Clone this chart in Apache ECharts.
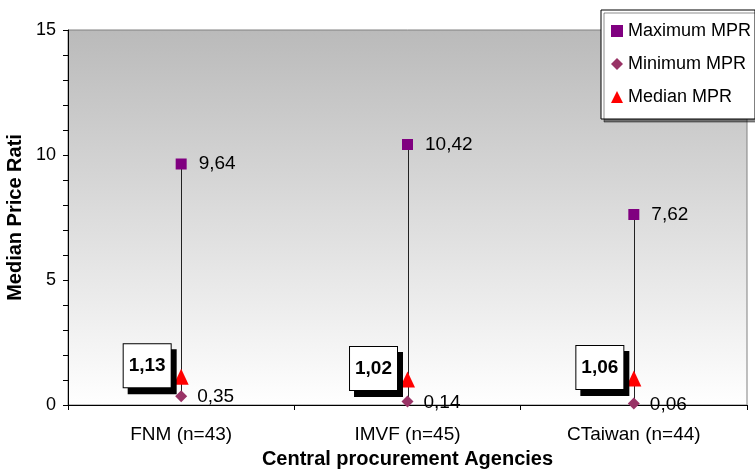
<!DOCTYPE html>
<html>
<head>
<meta charset="utf-8">
<script src="https://cdn.jsdelivr.net/npm/echarts@6/dist/echarts.min.js"></script>
<style>
  html, body { margin: 0; padding: 0; background: #ffffff; }
  #chart { width: 755px; height: 469px; }
</style>
</head>
<body>
<div id="chart"></div>
<script>
// Median price ratio ranges per central procurement agency
const categories = ['FNM (n=43)', 'IMVF (n=45)', 'CTaiwan (n=44)'];
const maxMPR = [9.64, 10.42, 7.62];
const minMPR = [0.35, 0.14, 0.06];
const medianMPR = [1.13, 1.02, 1.06];
const yTicks = [0, 5, 10, 15];

const FONT = '"Liberation Sans", Arial, sans-serif';
const fmt = v => v.toFixed(2).replace('.', ',');

const rangeData = categories.map((c, i) => [i, minMPR[i], maxMPR[i]]);

const chart = echarts.init(document.getElementById('chart'), null, { renderer: 'canvas' });

chart.setOption({
  animation: false,
  textStyle: { fontFamily: FONT },
  grid: {
    left: 68, right: 8, top: 30, bottom: 64,
    outerBoundsMode: 'none',
    containLabel: false,
    show: true,
    borderColor: '#808080',
    borderWidth: 1,
    backgroundColor: new echarts.graphic.LinearGradient(0, 0, 0, 1, [
      { offset: 0, color: '#bababa' },
      { offset: 1, color: '#ffffff' }
    ])
  },
  legend: {
    orient: 'vertical',
    left: 601, top: 10,
    backgroundColor: '#ffffff',
    borderColor: '#000000',
    borderWidth: 1,
    shadowColor: 'rgba(0,0,0,0.45)',
    shadowOffsetX: 3, shadowOffsetY: 3, shadowBlur: 0,
    padding: [11, 4, 12, 10],
    itemWidth: 12, itemHeight: 12,
    itemGap: 13,
    textStyle: { fontFamily: FONT, fontSize: 18, color: '#000', lineHeight: 20, width: 122 },
    data: [
      { name: 'Maximum MPR', icon: 'rect' },
      { name: 'Minimum MPR', icon: 'diamond' },
      { name: 'Median MPR', icon: 'triangle' }
    ]
  },
  xAxis: {
    type: 'category',
    data: categories,
    boundaryGap: true,
    name: 'Central procurement Agencies',
    nameLocation: 'middle',
    nameGap: 44,
    nameTextStyle: { fontFamily: FONT, fontSize: 20, fontWeight: 'bold', color: '#000' },
    axisLine: { lineStyle: { color: '#000', width: 1 } },
    axisTick: { show: true, length: 5, lineStyle: { color: '#000' } },
    axisLabel: { fontFamily: FONT, fontSize: 19, color: '#000', margin: 20 },
    splitLine: { show: false }
  },
  yAxis: {
    type: 'value',
    min: 0, max: 15, interval: 5,
    name: 'Median Price Rati',
    nameLocation: 'middle',
    nameGap: 38,
    nameRotate: 90,
    nameTextStyle: { fontFamily: FONT, fontSize: 20, fontWeight: 'bold', color: '#000' },
    axisLine: { show: true, lineStyle: { color: '#000', width: 1 } },
    axisTick: { show: true, length: 5, lineStyle: { color: '#000' } },
    minorTick: { show: true, splitNumber: 5, length: 5, lineStyle: { color: '#000' } },
    axisLabel: {
      fontFamily: FONT, fontSize: 18, color: '#000', margin: 12,
      formatter: v => (yTicks.indexOf(v) >= 0 ? String(v) : '')
    },
    splitLine: { show: false }
  },
  series: [
    {
      type: 'custom',
      name: 'range',
      data: rangeData,
      encode: { x: 0, y: [1, 2] },
      z: 1,
      silent: true,
      renderItem: (params, api) => {
        const lo = api.coord([api.value(0), api.value(1)]);
        const hi = api.coord([api.value(0), api.value(2)]);
        return {
          type: 'line',
          shape: { x1: Math.round(lo[0]) + 0.5, y1: lo[1], x2: Math.round(hi[0]) + 0.5, y2: hi[1] },
          style: { stroke: '#222', lineWidth: 1 }
        };
      }
    },
    {
      type: 'scatter',
      name: 'Maximum MPR',
      symbol: 'rect',
      symbolSize: 11,
      z: 3,
      itemStyle: { color: '#800080', opacity: 1 },
      data: maxMPR.map((v, i) => [i, v]),
      label: {
        show: true, position: 'right', distance: 12,
        fontFamily: FONT, fontSize: 19, color: '#000',
        formatter: p => fmt(p.value[1])
      }
    },
    {
      type: 'scatter',
      name: 'Minimum MPR',
      symbol: 'diamond',
      symbolSize: 12,
      z: 3,
      itemStyle: { color: '#993366', opacity: 1 },
      data: minMPR.map((v, i) => [i, v]),
      label: {
        show: true, position: 'right', distance: 10,
        fontFamily: FONT, fontSize: 19, color: '#000',
        offset: [0, 1],
        formatter: p => fmt(p.value[1])
      }
    },
    {
      type: 'scatter',
      name: 'Median MPR',
      symbol: 'triangle',
      symbolSize: [15, 16],
      z: 4,
      itemStyle: { color: '#ff0000', opacity: 1 },
      data: medianMPR.map((v, i) => [i, v]),
      label: {
        show: true, position: 'left', distance: 3,
        offset: [0, -11],
        fontFamily: FONT, fontSize: 19, fontWeight: 'bold', color: '#000',
        backgroundColor: '#ffffff',
        borderColor: '#000000', borderWidth: 1,
        padding: [12, 5, 12, 5],
        shadowColor: '#000000', shadowBlur: 0, shadowOffsetX: 5, shadowOffsetY: 6,
        formatter: p => fmt(p.value[1])
      }
    }
  ]
});
</script>
</body>
</html>
